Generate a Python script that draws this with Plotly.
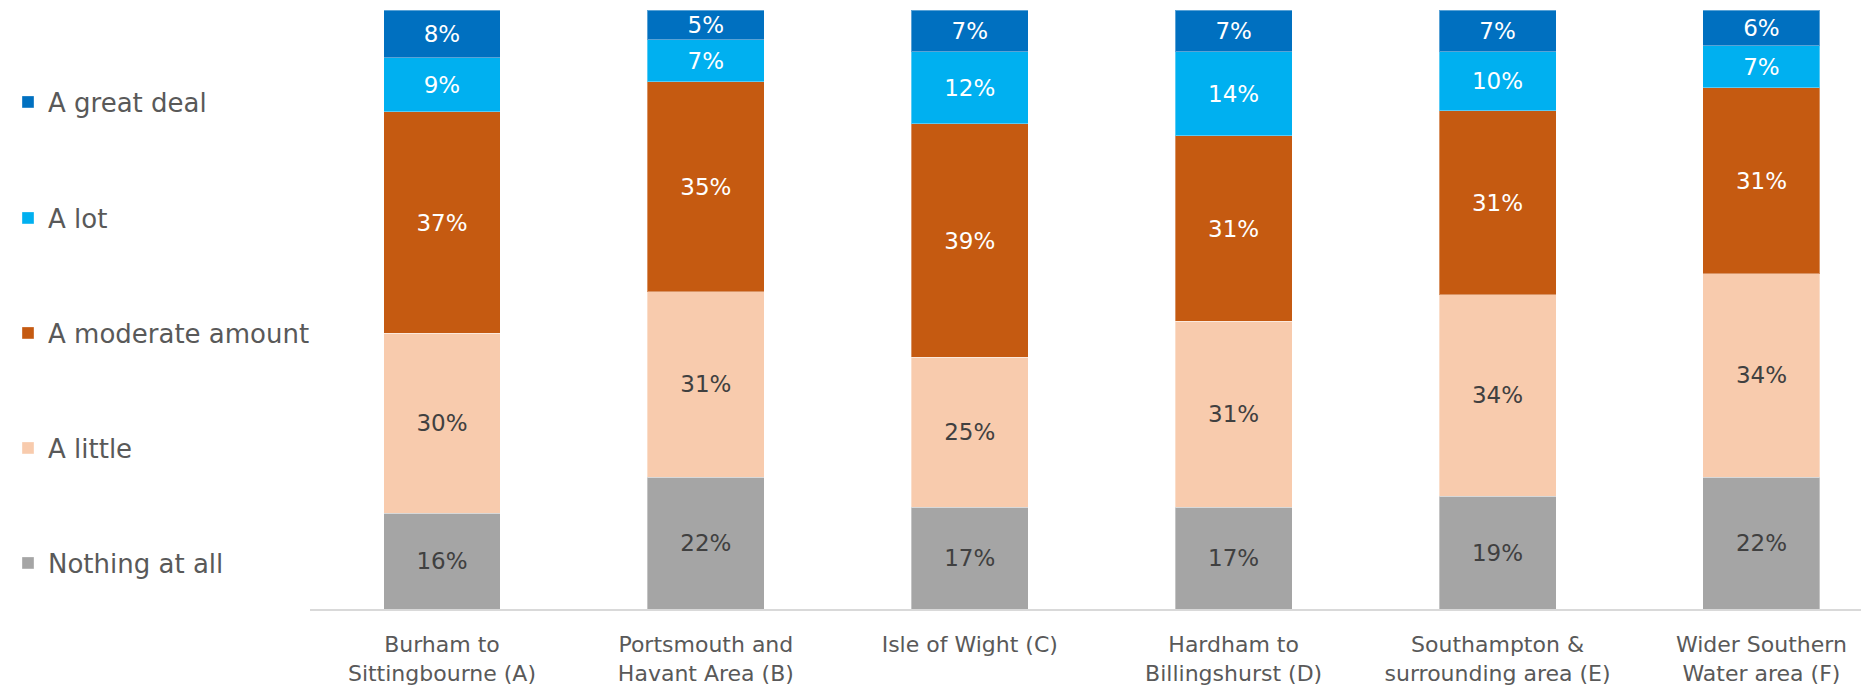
import plotly.graph_objects as go

categories = ["Burham to<br>Sittingbourne (A)", "Portsmouth and<br>Havant Area (B)", "Isle of Wight (C)",
              "Hardham to<br>Billingshurst (D)", "Southampton &<br>surrounding area (E)", "Wider Southern<br>Water area (F)"]
nothing_at_all = [16, 22, 17, 17, 19, 22]
a_little = [30, 31, 25, 31, 34, 34]
a_moderate_amount = [37, 35, 39, 31, 31, 31]
a_lot = [9, 7, 12, 14, 10, 7]
a_great_deal = [8, 5, 7, 7, 7, 6]

series = [
    ("Nothing at all", nothing_at_all, "#A5A5A5", "#404040"),
    ("A little", a_little, "#F8CBAD", "#404040"),
    ("A moderate amount", a_moderate_amount, "#C55A11", "#FFFFFF"),
    ("A lot", a_lot, "#00B0F0", "#FFFFFF"),
    ("A great deal", a_great_deal, "#0070C0", "#FFFFFF"),
]
# legend item vertical centres (px from top of figure), bottom item first
legend_centres = [555, 440, 325, 210, 94]

FONT = "DejaVu Sans"
fig = go.Figure()
layout_legends = {}
for i, (name, vals, color, tcolor) in enumerate(series):
    lname = "legend" if i == 0 else f"legend{i + 1}"
    fig.add_trace(go.Bar(
        name=name, x=categories, y=vals,
        marker=dict(color=color, line=dict(color="rgba(255,255,255,0.35)", width=1)),
        text=[f"{v}%" for v in vals], textposition="inside", insidetextanchor="middle",
        textangle=0, constraintext="none",
        textfont=dict(family=FONT, size=23, color=tcolor),
        legend=lname, hoverinfo="skip",
    ))
    layout_legends[lname] = dict(
        xref="container", yref="container", x=0, xanchor="left",
        y=1 - legend_centres[i] / 699, yanchor="middle",
        font=dict(family=FONT, size=26, color="#595959"),
        bgcolor="rgba(0,0,0,0)",
    )

fig.update_layout(
    width=1869, height=699,
    barmode="stack", barnorm="percent", bargap=0.557,
    margin=dict(l=302, r=10, t=2, b=98, autoexpand=False),
    plot_bgcolor="white", paper_bgcolor="white",
    font=dict(family=FONT, color="#595959"),
    showlegend=True,
    xaxis=dict(
        range=[-0.5, 5.4], showline=True, linecolor="#D9D9D9", linewidth=1.5,
        showgrid=False, zeroline=False, ticks="", ticklabelstandoff=15,
        tickfont=dict(family=FONT, size=22, color="#595959"),
    ),
    yaxis=dict(range=[0, 100], visible=False, showgrid=False, zeroline=False),
    **layout_legends,
)

fig.write_html("out.html")
